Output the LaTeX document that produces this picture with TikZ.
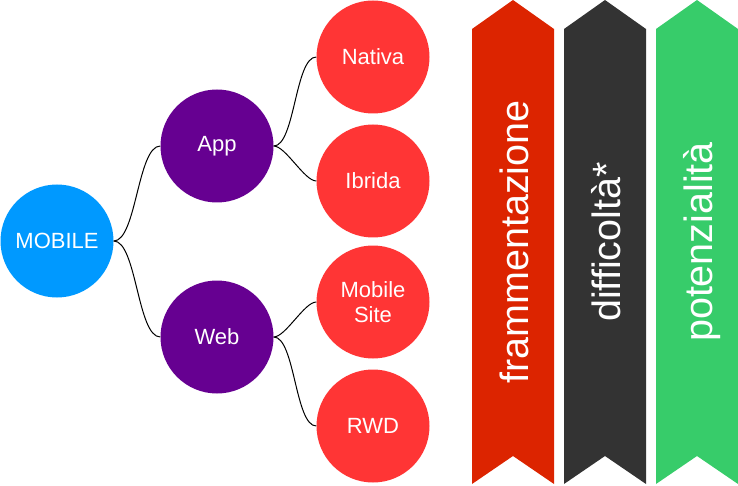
\documentclass[tikz,border=0pt]{standalone}
\usepackage{fontspec}
\setmainfont{Liberation Sans}
\definecolor{mobileblue}{RGB}{0,153,255}
\definecolor{apppurple}{RGB}{102,0,145}
\definecolor{nodered}{RGB}{255,53,53}
\definecolor{bannerred}{RGB}{220,36,0}
\definecolor{bannergray}{RGB}{51,51,51}
\definecolor{bannergreen}{RGB}{55,204,106}

\begin{document}
\begin{tikzpicture}[x=1pt, y=-1pt,
        bubble/.style={circle, minimum size=113pt, inner sep=0pt, text=white,
            align=center, font=\fontsize{22}{25}\selectfont},
        link/.style={black, line width=1pt, out=0, in=180, looseness=0.55},
        bannertext/.style={rotate=90, anchor=base, text=white,
            font=\fontsize{39.5}{44}\selectfont}]
            \useasboundingbox (0,0) rectangle (738,486);

            % Cerchi
            \node[bubble, fill=mobileblue] (mobile) at (57,241) {MOBILE};
            \node[bubble, fill=apppurple] (app) at (217,146) {App};
            \node[bubble, fill=apppurple] (web) at (217,337) {Web};
            \node[bubble, fill=nodered] (nativa) at (373,57) {Nativa};
            \node[bubble, fill=nodered] (ibrida) at (373,181) {Ibrida};
            \node[bubble, fill=nodered] (msite) at (373,302) {Mobile\\Site};
            \node[bubble, fill=nodered] (rwd) at (373,426) {RWD};

            % Collegamenti
            \draw[link] (mobile.east) to (app.west);
            \draw[link] (mobile.east) to (web.west);
            \draw[link] (app.east) to (nativa.west);
            \draw[link] (app.east) to (ibrida.west);
            \draw[link] (web.east) to (msite.west);
            \draw[link] (web.east) to (rwd.west);

            % Bandiere
            \fill[bannerred] (472,29) -- (513,0) -- (554,29) -- (554,484) -- (513,456) -- (472,484) -- cycle;
            \fill[bannergray] (564,29) -- (605,0) -- (646,29) -- (646,484) -- (605,456) -- (564,484) -- cycle;
            \fill[bannergreen] (656,29) -- (697,0) -- (738,29) -- (738,484) -- (697,456) -- (656,484) -- cycle;

            % Testi delle bandiere
            \node[bannertext] (fram) at (528,242) {frammentazione};
            \node[bannertext] (diff) at (620,242) {difficoltà*};
            \node[bannertext] (pot) at (712,242) {potenzialità};
        \end{tikzpicture}
\end{document}
